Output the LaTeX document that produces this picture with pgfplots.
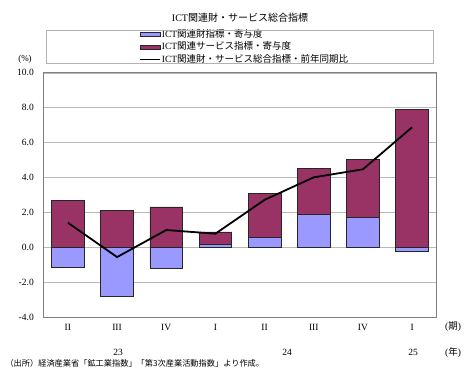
\documentclass[border=0pt]{standalone}
\usepackage{fontspec}
\setmainfont{Liberation Serif}
\newfontfamily\cjk{Noto Sans CJK JP}
\usepackage{pgfplots}
\pgfplotsset{compat=1.18}
\definecolor{bblue}{HTML}{9999FF}
\definecolor{bmag}{HTML}{993366}
\pgfplotsset{
  barleg/.style={legend image code/.code={\draw[##1] (0pt,-2pt) rectangle (20pt,2pt);}},
  lineleg/.style={legend image code/.code={\draw[##1] (0pt,0pt) -- (20pt,0pt);}},
}
\begin{document}
\begin{tikzpicture}[x=1pt,y=1pt]
\useasboundingbox (0,0) rectangle (470,376);
\begin{axis}[
  at={(43.3pt,58.9pt)}, anchor=south west, scale only axis,
  width=393.4pt, height=244.3pt,
  xmin=-0.5, xmax=7.5, ymin=-4, ymax=10,
  ytick={-4,-2,...,10},
  xtick={0,...,7}, xticklabels={II,III,IV,I,II,III,IV,I},
  /pgf/number format/assume math mode=true,
  /pgf/number format/fixed, /pgf/number format/fixed zerofill, /pgf/number format/precision=1,
  ticklabel style={font=\fontsize{9.5}{10}\selectfont},
  yticklabel style={xshift=-6pt},
  xticklabel style={yshift=-4pt},
  major tick length=0pt,
  ymajorgrids, grid style={gray!55, line width=0.6pt},
  axis line style={gray, line width=0.8pt},
  clip=false,
  legend cell align=left,
  legend style={at={(rel axis cs:0.243,1.183)}, anchor=north west, draw=none, fill=none,
    font=\fontsize{9.5}{11}\selectfont, inner sep=0pt,
    nodes={text height=8pt, text depth=2.5pt, inner sep=1pt}},
]
% total (top) of the service contribution bar
\addplot[ybar, bar shift=0pt, bar width=0.665, fill=bmag, draw=black!85, line width=0.6pt, forget plot]
  coordinates {(0,2.69) (1,2.10) (2,2.31) (3,0.88) (4,3.11) (5,4.54) (6,5.06) (7,7.92)};
% goods contribution
\addplot[ybar, bar shift=0pt, bar width=0.665, fill=bblue, draw=black!85, line width=0.6pt, barleg]
  coordinates {(0,-1.13) (1,-2.81) (2,-1.20) (3,0.15) (4,0.55) (5,1.89) (6,1.72) (7,-0.21)};
\addlegendentry{ICT{\cjk 関連財指標・寄与度}}
\addlegendimage{fill=bmag, draw=black!85, line width=0.6pt, barleg}
\addlegendentry{ICT{\cjk 関連サービス指標・寄与度}}
\addplot[black, line width=1.8pt, mark=none, lineleg]
  coordinates {(0,1.41) (1,-0.56) (2,0.99) (3,0.78) (4,2.72) (5,4.01) (6,4.47) (7,6.88)};
\addlegendentry{ICT{\cjk 関連財・サービス総合指標・前年同期比}}
\end{axis}
\draw[gray!60, line width=0.6pt] (46,313) rectangle (433,346);
\node at (240,358) {\fontsize{10}{12}\selectfont ICT{\cjk 関連財・サービス総合指標}};
\node at (25,317) {\fontsize{9}{10}\selectfont (\%)};
\node at (118,24) {\fontsize{9.5}{10}\selectfont 23};
\node at (287,24) {\fontsize{9.5}{10}\selectfont 24};
\node at (413,24) {\fontsize{9.5}{10}\selectfont 25};
\node at (453,49) {\fontsize{9.5}{10}\selectfont ({\cjk 期})};
\node at (453,24) {\fontsize{9.5}{10}\selectfont ({\cjk 年})};
\node[anchor=west] at (2,13) {\fontsize{8.2}{10}\selectfont {\cjk （出所）経済産業省「鉱工業指数」「第3次産業活動指数」より作成。}};
\end{tikzpicture}
\end{document}
